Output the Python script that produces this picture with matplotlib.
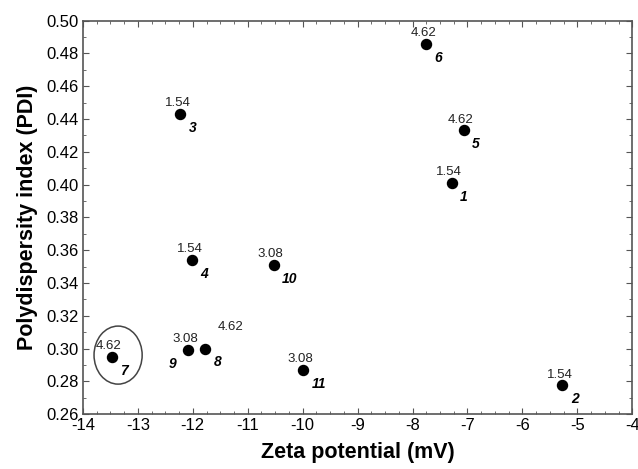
import numpy as np
import matplotlib.pyplot as plt
from matplotlib.patches import Ellipse
from matplotlib.ticker import MultipleLocator

plt.rcParams['font.family'] = ['Liberation Sans', 'DejaVu Sans']
plt.rcParams['axes.unicode_minus'] = False

# formulation number, zeta potential (mV), PDI, label value
sample = ['1', '2', '3', '4', '5', '6', '7', '8', '9', '10', '11']
zeta = [-7.29, -5.27, -12.23, -12.01, -7.07, -7.75, -13.48, -11.77, -12.09, -10.53, -9.99]
pdi = [0.401, 0.2775, 0.443, 0.354, 0.433, 0.486, 0.295, 0.300, 0.299, 0.351, 0.287]
value = ['1.54', '1.54', '1.54', '1.54', '4.62', '4.62', '4.62', '4.62', '3.08', '3.08', '3.08']

fig = plt.figure(figsize=(6.38, 4.69), dpi=100)
ax = fig.add_axes([0.130, 0.117, 0.861, 0.839])

ax.scatter(zeta, pdi, s=52, color='black', zorder=3)

for i in range(len(sample)):
    # value above the dot
    if sample[i] == '8':
        ax.annotate(value[i], (zeta[i], pdi[i]), xytext=(18, 11), textcoords='offset points',
                    ha='center', va='bottom', fontsize=9.5, color='#222222')
    else:
        ax.annotate(value[i], (zeta[i], pdi[i]), xytext=(-2, 3.5), textcoords='offset points',
                    ha='center', va='bottom', fontsize=9.5, color='#222222')
    # sample number below-right (below-left for 9)
    if sample[i] == '9':
        ax.annotate(sample[i], (zeta[i], pdi[i]), xytext=(-8, -5), textcoords='offset points',
                    ha='right', va='top', fontsize=10, fontweight='bold', fontstyle='italic')
    else:
        ax.annotate(sample[i], (zeta[i], pdi[i]), xytext=(6, -5), textcoords='offset points',
                    ha='left', va='top', fontsize=10, fontweight='bold', fontstyle='italic')

ax.add_patch(Ellipse((-13.36, 0.296), 0.876, 0.0354, fill=False, edgecolor='#444444', lw=1.1))

ax.set_xlim(-14, -4)
ax.set_ylim(0.26, 0.50)
ax.xaxis.set_major_locator(MultipleLocator(1))
ax.xaxis.set_minor_locator(MultipleLocator(0.25))
ax.yaxis.set_major_locator(MultipleLocator(0.02))
ax.yaxis.set_minor_locator(MultipleLocator(0.01))
ax.yaxis.set_major_formatter(plt.FormatStrFormatter('%.2f'))
ax.tick_params(which='both', direction='in', top=True, right=True, color='#555555')
ax.tick_params(which='major', length=4, labelsize=12, pad=3)
ax.tick_params(which='minor', length=2.5)
for sp in ax.spines.values():
    sp.set_color('#555555')
    sp.set_linewidth(1.2)

ax.set_xlabel('Zeta potential (mV)', fontsize=15.5, fontweight='bold', labelpad=6)
ax.set_ylabel('Polydispersity index (PDI)', fontsize=15.5, fontweight='bold', labelpad=6)

fig.savefig('out.png', dpi=100)
